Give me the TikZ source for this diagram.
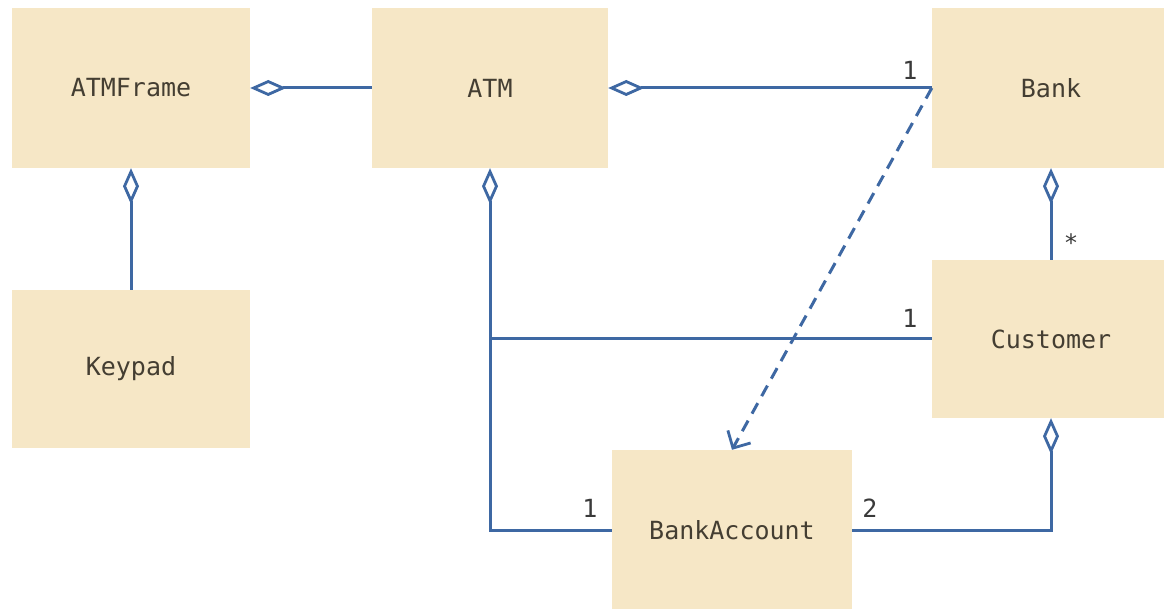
\documentclass[tikz,border=0pt]{standalone}
\usepackage{fontspec}
\setmonofont{DejaVu Sans Mono}
\usetikzlibrary{arrows.meta}
\definecolor{boxfill}{HTML}{F6E7C6}
\definecolor{linec}{HTML}{3E68A3}
\definecolor{txt}{HTML}{443E32}
\definecolor{lbl}{HTML}{3A3A3A}
\tikzset{
  cls/.style={rectangle, fill=boxfill, draw=none, inner sep=0pt, text=txt,
    font=\ttfamily\fontsize{25}{28}\selectfont},
  assoc/.style={draw=linec, line width=3pt},
  aggr/.style={assoc, -{Diamond[open, length=36pt, width=16pt, line width=2.8pt]}},
  depend/.style={draw=linec, line width=3pt, dash pattern=on 12pt off 8pt,
    -{Straight Barb[length=13pt, width=26pt, line width=2.8pt]}},
  mult/.style={text=lbl, font=\ttfamily\fontsize{25}{28}\selectfont, inner sep=0pt},
}
\begin{document}
\begin{tikzpicture}[x=1pt, y=-1pt]
\useasboundingbox (0,0) rectangle (1164,609);
\fill[white] (0,0) rectangle (1164,609);
\node[cls, minimum width=238pt, minimum height=160pt] (frame) at (131,88) {ATMFrame};
\node[cls, minimum width=236pt, minimum height=160pt] (atm) at (490,88) {ATM};
\node[cls, minimum width=238pt, minimum height=160pt] (bank) at (1051,88) {Bank};
\node[cls, minimum width=238pt, minimum height=158pt] (keypad) at (131,369) {Keypad};
\node[cls, minimum width=238pt, minimum height=158pt] (cust) at (1051,339) {Customer};
\node[cls, minimum width=240pt, minimum height=160pt] (acct) at (732,530) {BankAccount};

\draw[aggr] (atm.west) -- (frame.east);
\draw[aggr] (keypad.north) -- (frame.south);
\draw[aggr] (bank.west) -- (atm.east);
\draw[aggr] (cust.north) -- (bank.south);
\draw[aggr] (acct.west) -| (atm.south);
\draw[assoc] (cust.west) -- (cust.west -| atm.south);
\draw[aggr] (acct.east) -| (cust.south);
\draw[depend] (bank.west) -- (acct.north);

\node[mult] (m1) at (910,70) {1};
\node[mult] (m2) at (910,318) {1};
\node[mult] (m3) at (590,508) {1};
\node[mult] (m4) at (870,508) {2};
\node[mult, font=\ttfamily\fontsize{24}{26}\selectfont, anchor=base] (m5) at (1071,252) {*};
\end{tikzpicture}
\end{document}
